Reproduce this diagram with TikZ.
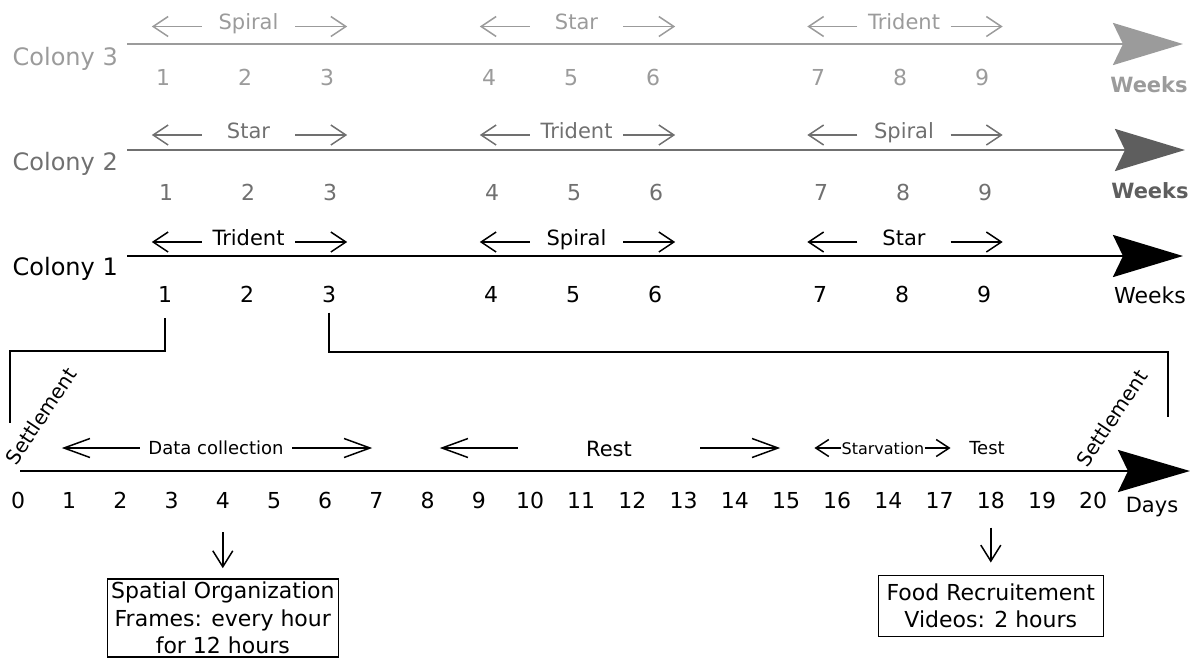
\documentclass[tikz,border=0pt]{standalone}
\usepackage{fontspec}
\setmainfont{DejaVu Sans}
\usepackage{xcolor}
\usepackage{tikz}
\usetikzlibrary{arrows.meta,positioning,calc}
\definecolor{colthree}{RGB}{155,155,155}
\definecolor{coltwo}{RGB}{112,112,112}
\definecolor{headtwo}{RGB}{94,94,94}

\begin{document}
\begin{tikzpicture}[
    x=1pt, y=-1pt,
    axis/.style={line width=2.8pt,-{Stealth[length=70pt,width=42pt,inset=10pt]}},
    colony/.style={anchor=base east,inner sep=0pt,font=\fontsize{24}{28}\selectfont},
    weeknum/.style={anchor=base,inner sep=0pt,font=\fontsize{22}{26}\selectfont},
    weeks/.style={anchor=base,inner sep=0pt,font=\fontsize{22}{26}\selectfont},
    phase/.style={line width=1.5pt,-{Straight Barb[length=15pt,width=20pt]}},
    longphase/.style={line width=1.5pt,-{Straight Barb[length=26pt,width=19pt]}},
    shortphase/.style={line width=1.5pt,-{Straight Barb[length=13pt,width=17pt]}},
    phaselabel/.style={inner sep=0pt,minimum width=93pt,text height=16pt,text depth=10pt,font=\fontsize{21}{25}\selectfont},
    daylabel/.style={inner sep=0pt,text height=13.7pt,text depth=0pt,font=\fontsize{18}{22}\selectfont},
    settle/.style={inner sep=0pt,rotate=56,font=\fontsize{20}{24}\selectfont},
    bracket/.style={line width=1.8pt},
    down/.style={line width=1.5pt,-{Straight Barb[length=16pt,width=20pt]}},
    infobox/.style={draw,line width=1.6pt,align=center,inner sep=0pt,font=\fontsize{22}{27.5}\selectfont}
  ]
  \useasboundingbox (0,0) rectangle (1197,657);

  % colony time lines
  \node[colony,text=colthree] (c3) at (118,65)  {Colony 3};
  \node[colony,text=coltwo]   (c2) at (118,170) {Colony 2};
  \node[colony]               (c1) at (118,275) {Colony 1};
  \coordinate (s3) at (127,44);  \coordinate (e3) at (1183,44);
  \coordinate (s2) at (127,150); \coordinate (e2) at (1185,150);
  \coordinate (s1) at (127,256); \coordinate (e1) at (1183,256);
  \draw[axis,colthree] (s3) -- (e3);
  \draw[line width=2.8pt,coltwo,-{Stealth[length=70pt,width=42pt,inset=10pt,color=headtwo]}] (s2) -- (e2);
  \draw[axis,black] (s1) -- (e1);

  \foreach \r/\y/\dx/\col in {3/85/-2/colthree,2/200/1/coltwo,1/302/0/black}
    \foreach \n/\x in {1/165,2/247,3/329,4/491,5/573,6/655,7/820,8/902,9/984}
      \node[weeknum,text=\col] (w\r\n) at (\x+\dx,\y) {\n};

  \node[weeks,text=colthree,font=\fontsize{21}{25}\selectfont\bfseries] (wk3) at (1149,92) {Weeks};
  \node[weeks,text=headtwo,font=\fontsize{21}{25}\selectfont\bfseries] (wk2) at (1150,198) {Weeks};
  \node[weeks] (wk1) at (1150,303) {Weeks};

  % shapes per colony
  \foreach \n/\x/\y/\t/\col in {
      p3a/248.5/26.5/Spiral/colthree, p3b/576.5/26.5/Star/colthree, p3c/904/26.5/Trident/colthree,
      p2a/248.5/135/Star/coltwo, p2b/576.5/135/Trident/coltwo, p2c/904/135/Spiral/coltwo,
      p1a/248.5/242/Trident/black, p1b/576.5/242/Spiral/black, p1c/904/242/Star/black} {
    \node[phaselabel,text=\col] (\n) at (\x,\y) {\t};
    \coordinate (\n-l) at ([xshift=-50pt]\n.west);
    \coordinate (\n-r) at ([xshift=52pt]\n.east);
    \draw[phase,\col] (\n) -- (\n-l);
    \draw[phase,\col] (\n) -- (\n-r);
  }

  % zoom on weeks 1 to 3
  \coordinate (brA) at (10,351);   \coordinate (setA) at (10,423);
  \coordinate (brB) at (1168,352); \coordinate (setB) at (1168,417);
  \draw[bracket,shorten <=16pt] (w11.south) |- (brA) -- (setA);
  \draw[bracket,shorten <=10pt] (w13.south) |- (brB) -- (setB);

  % days
  \coordinate (ds) at (20,471); \coordinate (de) at (1190,471);
  \draw[line width=2.8pt,-{Stealth[length=72pt,width=42pt,inset=10pt]}] (ds) -- (de);
  \foreach \lab [count=\i from 0] in {0,1,2,3,4,5,6,7,8,9,10,11,12,13,14,15,16,14,17,18,19,20}
    \node[weeknum] (d\i) at (18+51.2*\i,508) {\lab};
  \node[weeks,font=\fontsize{21}{25}\selectfont] (days) at (1152,512) {Days};

  \node[settle] (set1) at (41,416)   {Settlement};
  \node[settle] (set2) at (1112,418) {Settlement};

  \node[daylabel,minimum width=152pt] (collect) at (216,448) {Data collection};
  \coordinate (collect-l) at ([xshift=-78pt]collect.west);
  \coordinate (collect-r) at ([xshift=80pt]collect.east);
  \draw[longphase] (collect) -- (collect-l);
  \draw[longphase] (collect) -- (collect-r);

  \node[daylabel,minimum width=182pt,text height=16pt,font=\fontsize{21}{25}\selectfont] (rest) at (609,448) {Rest};
  \coordinate (rest-l) at ([xshift=-78pt]rest.west);
  \coordinate (rest-r) at ([xshift=80pt]rest.east);
  \draw[longphase] (rest) -- (rest-l);
  \draw[longphase] (rest) -- (rest-r);

  \node[daylabel,text height=12pt,font=\fontsize{16}{20}\selectfont] (starve) at (883,448) {Starvation};
  \coordinate (starve-l) at ([xshift=-27pt]starve.west);
  \coordinate (starve-r) at ([xshift=26pt]starve.east);
  \draw[shortphase] (starve) -- (starve-l);
  \draw[shortphase] (starve) -- (starve-r);

  \node[daylabel] (test) at (987,448) {Test};

  % measurements
  \node[infobox,minimum width=231pt,minimum height=78pt,below=70pt of d4] (spatial)
    {Spatial Organization\\Frames: every hour\\for 12 hours};
  \node[infobox,minimum width=225pt,minimum height=61pt,below=66pt of d19] (food)
    {Food Recruitement\\Videos: 2 hours};
  \draw[down,shorten <=24pt,shorten >=10pt] (d4.south) -- (spatial.north);
  \draw[down,shorten <=19pt,shorten >=12pt] (d19.south) -- (food.north);
\end{tikzpicture}
\end{document}
